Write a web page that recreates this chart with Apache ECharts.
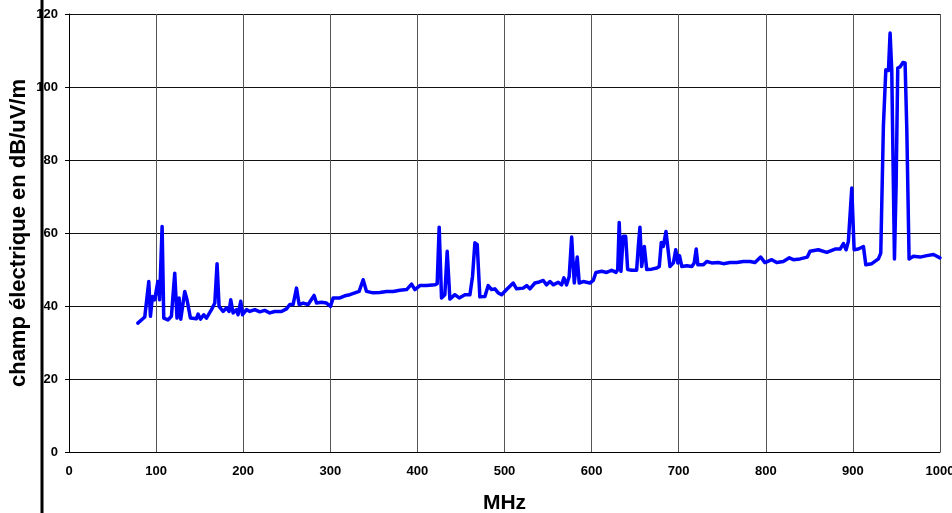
<!DOCTYPE html>
<html>
<head>
<meta charset="utf-8">
<script src="https://cdn.jsdelivr.net/npm/echarts@6/dist/echarts.min.js"></script>
<style>
  html, body { margin: 0; padding: 0; background: #fff; }
  #chart { width: 952px; height: 513px; }
</style>
</head>
<body>
<div id="chart"></div>
<script>
  // frequency (MHz) and field level (dB/uV/m)
  const freq = [
    79, 87, 91.6, 93.5, 95.8, 98.4, 102, 104, 106.9, 108.8, 113.7, 117.6, 121.4, 124, 126.4, 128.3,
    132.9, 135.5, 139.4, 146.3, 148.2, 150.9, 154.7, 157.8, 163.6, 167.4, 170, 172.3, 176.9, 180.8,
    183.8, 185.7, 188.4, 192.3, 194.1, 197.2, 199.2, 203.8, 207.6, 213.3, 219, 224.8, 230.5, 236.2,
    244, 249.7, 253.5, 257.3, 261.2, 264.2, 268.8, 274.5, 281.4, 284.2, 289.9, 295.6, 300.3, 303.2,
    311, 316.7, 322.4, 328.2, 333.1, 337.7, 341.6, 349.2, 356.9, 364.6, 372.2, 379.9, 387.6, 393.3,
    397.1, 402.8, 410.5, 420, 422.7, 425, 427.7, 431.5, 434.2, 437.3, 443, 448, 454.5, 460.3, 463.3,
    466, 468.7, 471.7, 477.5, 481.3, 485.2, 489, 492.8, 496.7, 502.4, 510, 513.9, 521.5, 525.4, 529.2,
    534.9, 538.7, 544.5, 548.3, 552.2, 556, 561.7, 565.6, 568.2, 571.3, 574.3, 577.1, 580.1, 583.5,
    585.8, 590.4, 598.1, 601.9, 605, 611.5, 617.3, 623, 628, 630, 631.7, 633.7, 636.3, 639.1, 641.4,
    646, 651.7, 653.6, 655.5, 657.5, 660.5, 663.3, 669, 674.8, 677.7, 680, 682.3, 685.4, 687.3, 690,
    693.9, 696.6, 699, 700.9, 703.6, 709.4, 715.1, 717.8, 720.1, 722, 728.3, 732.2, 737.9, 745.5,
    751.2, 758.9, 766.6, 774.2, 781.9, 787.6, 794.1, 799, 806.8, 812.5, 820.1, 827, 831.6, 839.3,
    847.7, 850.8, 860.3, 870, 879.5, 885.3, 889.1, 892.2, 894.8, 898.7, 901.4, 906.3, 912.1, 914.8,
    921.7, 929.3, 932, 935, 937.8, 940.8, 942.7, 944.6, 946.5, 947.7, 949.6, 951.5, 954.2, 957.3,
    959.9, 961.9, 964.5, 969.5, 977.2, 984.9, 992.5, 1000
  ];
  const level = [
    35.3, 37, 46.7, 37.2, 42.6, 41.7, 46.7, 41.7, 61.8, 36.7, 36.2, 37.2, 49, 36.7, 42.2, 36.4,
    44, 41.7, 36.7, 36.5, 37.8, 36.4, 37.6, 36.7, 39, 40.8, 51.6, 39.9, 38.5, 39.5,
    38.5, 41.7, 38.1, 39, 37.6, 41.3, 37.6, 39, 38.5, 39, 38.4, 38.8, 38.1, 38.5,
    38.5, 39.2, 40.4, 40.4, 44.9, 40.4, 40.8, 40.4, 42.9, 40.8, 41, 40.8, 39.9, 42.2,
    42.2, 42.8, 43.1, 43.6, 44, 47.2, 44, 43.6, 43.7, 44, 44, 44.3, 44.5, 46,
    44.5, 45.6, 45.6, 45.8, 46.1, 61.6, 42.2, 43.1, 55, 41.9, 43.1, 42.2, 43.1, 43.1, 48.1,
    57.3, 56.8, 42.5, 42.6, 45.6, 44.5, 44.7, 43.6, 43.1, 44.5, 46.3, 44.7, 44.9, 45.6, 44.7,
    46.3, 46.5, 47, 45.8, 46.7, 45.8, 46.5, 45.8, 47.7, 45.8, 48.1, 58.9, 46.3, 53.4,
    46.3, 46.7, 46.3, 47, 49.2, 49.5, 49.2, 49.8, 49.2, 50, 62.9, 49.5, 59.1, 59.1, 50,
    49.8, 49.8, 56.3, 61.6, 50.8, 56.3, 50, 50.1, 50.4, 50.8, 57.4, 56.3, 60.4, 60, 50.8,
    51.8, 55.4, 51.8, 53.8, 50.8, 51, 50.8, 51.8, 55.6, 51.3, 51.3, 52.2, 51.8, 51.9,
    51.6, 51.9, 51.9, 52.2, 52.2, 51.9, 53.4, 51.9, 52.7, 51.9, 52.2, 53.2, 52.7, 52.9,
    53.4, 55, 55.4, 54.7, 55.6, 55.6, 57.1, 55.4, 57.7, 72.3, 55.4, 55.6, 56.3, 51.3,
    51.6, 52.9, 54.5, 89.2, 104.7, 104.5, 114.8, 104.7, 72.8, 52.9, 72.8, 105.2, 105.5, 106.7,
    106.6, 88.3, 52.9, 53.6, 53.4, 53.8, 54.1, 53.2
  ];
  const xTicks = [0, 1000, 100];   // min, max, step
  const yTicks = [0, 120, 20];

  const labelFont = {
    fontFamily: 'Liberation Sans, Arial, sans-serif',
    fontWeight: 'bold',
    color: '#000'
  };

  const myChart = echarts.init(document.getElementById('chart'), null, { renderer: 'canvas' });

  const option = {
    backgroundColor: '#fff',
    animation: false,
    grid: {
      left: 69,
      right: 12,
      top: 14,
      bottom: 61,
      containLabel: false,
      outerBoundsMode: 'none'
    },
    graphic: [
      {
        type: 'line',
        shape: { x1: 42, y1: 0, x2: 42, y2: 513 },
        style: { stroke: '#000', lineWidth: 3 },
        z: 10
      }
    ],
    xAxis: {
      type: 'value',
      min: xTicks[0],
      max: xTicks[1],
      interval: xTicks[2],
      name: 'MHz',
      nameLocation: 'middle',
      nameGap: 41,
      nameMoveOverlap: false,
      nameTextStyle: Object.assign({ fontSize: 21 }, labelFont),
      axisLine: { show: true, lineStyle: { color: '#000', width: 1 } },
      axisTick: { show: false },
      axisLabel: Object.assign({ fontSize: 13, margin: 13, formatter: v => String(v) }, labelFont),
      splitLine: { show: true, lineStyle: { color: '#555', width: 1 } }
    },
    yAxis: {
      type: 'value',
      min: yTicks[0],
      max: yTicks[1],
      interval: yTicks[2],
      name: 'champ électrique en dB/uV/m',
      nameLocation: 'middle',
      nameGap: 39,
      nameMoveOverlap: false,
      nameTextStyle: Object.assign({ fontSize: 22 }, labelFont),
      axisLine: { show: true, lineStyle: { color: '#000', width: 1 } },
      axisTick: { show: true, length: 4, lineStyle: { color: '#000' } },
      axisLabel: Object.assign({ fontSize: 13, margin: 11 }, labelFont),
      splitLine: { show: true, lineStyle: { color: '#111', width: 1 } }
    },
    series: [
      {
        type: 'line',
        data: freq.map((f, i) => [f, level[i]]),
        showSymbol: false,
        lineStyle: { color: '#0000ff', width: 3.5, join: 'round', cap: 'round' },
        itemStyle: { color: '#0000ff' },
        z: 5
      }
    ]
  };

  myChart.setOption(option);
</script>
</body>
</html>
